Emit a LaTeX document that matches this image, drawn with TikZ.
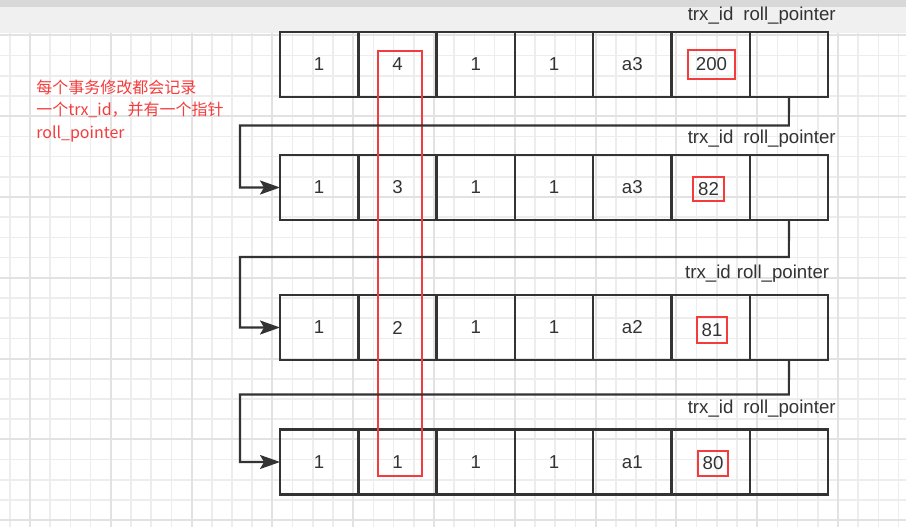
\documentclass[tikz,border=0pt]{standalone}
\usepackage{fontspec}
\setmainfont{Liberation Sans}
\newfontfamily\cjk{Noto Sans CJK SC}
\usetikzlibrary{arrows.meta}
\definecolor{ink}{HTML}{333333}
\definecolor{hl}{HTML}{F43C3C}
\definecolor{gminor}{HTML}{EDEDED}
\definecolor{gmajor}{HTML}{E2E2E2}
\definecolor{band}{HTML}{F0F0F0}
\definecolor{bandtop}{HTML}{D8D8D8}
\begin{document}
\begin{tikzpicture}[x=0.75pt,y=-0.75pt,
  cell/.style={draw=ink, line width=1.9pt, minimum width=58.7pt, minimum height=48.75pt,
    inner sep=0pt, outer sep=0pt, text=ink, font=\fontsize{14}{16}\selectfont},
  lab/.style={text=ink, inner sep=0pt, font=\fontsize{14}{16}\selectfont},
  val/.style={draw=hl, line width=2.2pt, inner sep=0pt, text=ink, font=\fontsize{14}{16}\selectfont},
  conn/.style={draw=ink, line width=1.6pt, -{Stealth[length=15pt,width=10.5pt,inset=3pt]}},
  gmin/.style={draw=gminor, line width=1.1pt},
  gmaj/.style={draw=gmajor, line width=1.4pt}]
\useasboundingbox (0,0) rectangle (906,527);
\fill[white] (0,0) rectangle (906,527);
\fill[band] (0,0) rectangle (906,33);
\fill[bandtop] (0,0) rectangle (906,7);
\begin{scope}
  \clip (0,33) rectangle (906,527);
  \foreach \i in {0,...,44} \draw[gmin] ({9.8+20.2*\i},33) -- ++(0,494);
  \foreach \i in {0,...,24} \draw[gmin] (0,{35.4+20.2*\i}) -- ++(906,0);
  \foreach \k in {0,...,11} \draw[gmaj] ({30+80.8*\k},33) -- ++(0,494);
  \foreach \k in {0,...,6} \draw[gmaj] (0,{35.4+80.8*\k}) -- ++(906,0);
\end{scope}

% rows of cells
\foreach \c/\t in {1/1,2/4,3/1,4/1,5/a3,6/{},7/{}}
  \node[cell] (r1c\c) at ({280+78.3*(\c-0.5)},64.5) {\t};
\foreach \c/\t in {1/1,2/3,3/1,4/1,5/a3,6/{},7/{}}
  \node[cell] (r2c\c) at ({280+78.3*(\c-0.5)},187.5) {\t};
\foreach \c/\t in {1/1,2/2,3/1,4/1,5/a2,6/{},7/{}}
  \node[cell] (r3c\c) at ({280+78.3*(\c-0.5)},327.5) {\t};
\foreach \c/\t in {1/1,2/1,3/1,4/1,5/a1,6/{},7/{}}
  \node[cell] (r4c\c) at ({280+78.3*(\c-0.5)},462) {\t};

% header labels
\node[lab] (t1) at (710.6,16) {trx\_id};
\node[lab] (p1) at (789.5,16) {roll\_pointer};
\node[lab] (t2) at (710.6,139) {trx\_id};
\node[lab] (p2) at (789.5,139) {roll\_pointer};
\node[lab] (t3) at (708,274) {trx\_id};
\node[lab] (p3) at (783,274) {roll\_pointer};
\node[lab] (t4) at (710.6,409) {trx\_id};
\node[lab] (p4) at (789.5,409) {roll\_pointer};

% trx_id values with red frames
\node[val, minimum width=35.25pt, minimum height=21.75pt] (v1) at (711.5,64.5) {200};
\node[val, minimum width=23.25pt, minimum height=18pt] (v2) at (708.5,189) {82};
\node[val, minimum width=22.5pt, minimum height=19.5pt] (v3) at (712,330) {81};
\node[val, minimum width=22.5pt, minimum height=18.75pt] (v4) at (713,463.5) {80};

% red column frame
\node[draw=hl, line width=2.2pt, inner sep=0pt, minimum width=33pt, minimum height=318.75pt] (col) at (400,263.5) {};

% roll pointer connectors
\coordinate (k1a) at (788.9,125.5);
\coordinate (k1b) at (240,125.5);
\coordinate (k2a) at (788.9,257);
\coordinate (k2b) at (240,257);
\coordinate (k3a) at (788.9,394.5);
\coordinate (k3b) at (240,394.5);
\draw[conn] (r1c7.south) -- (k1a) -- (k1b) |- (r2c1.west);
\draw[conn] (r2c7.south) -- (k2a) -- (k2b) |- (r3c1.west);
\draw[conn] (r3c7.south) -- (k3a) -- (k3b) |- (r4c1.west);

% note
\node[anchor=west, align=left, text=hl, inner sep=0pt,
  font=\cjk\fontsize{12}{16.9}\selectfont] (note) at (36,111)
  {每个事务修改都会记录\\一个trx\_id，并有一个指针\\roll\_pointer};
\end{tikzpicture}
\end{document}
